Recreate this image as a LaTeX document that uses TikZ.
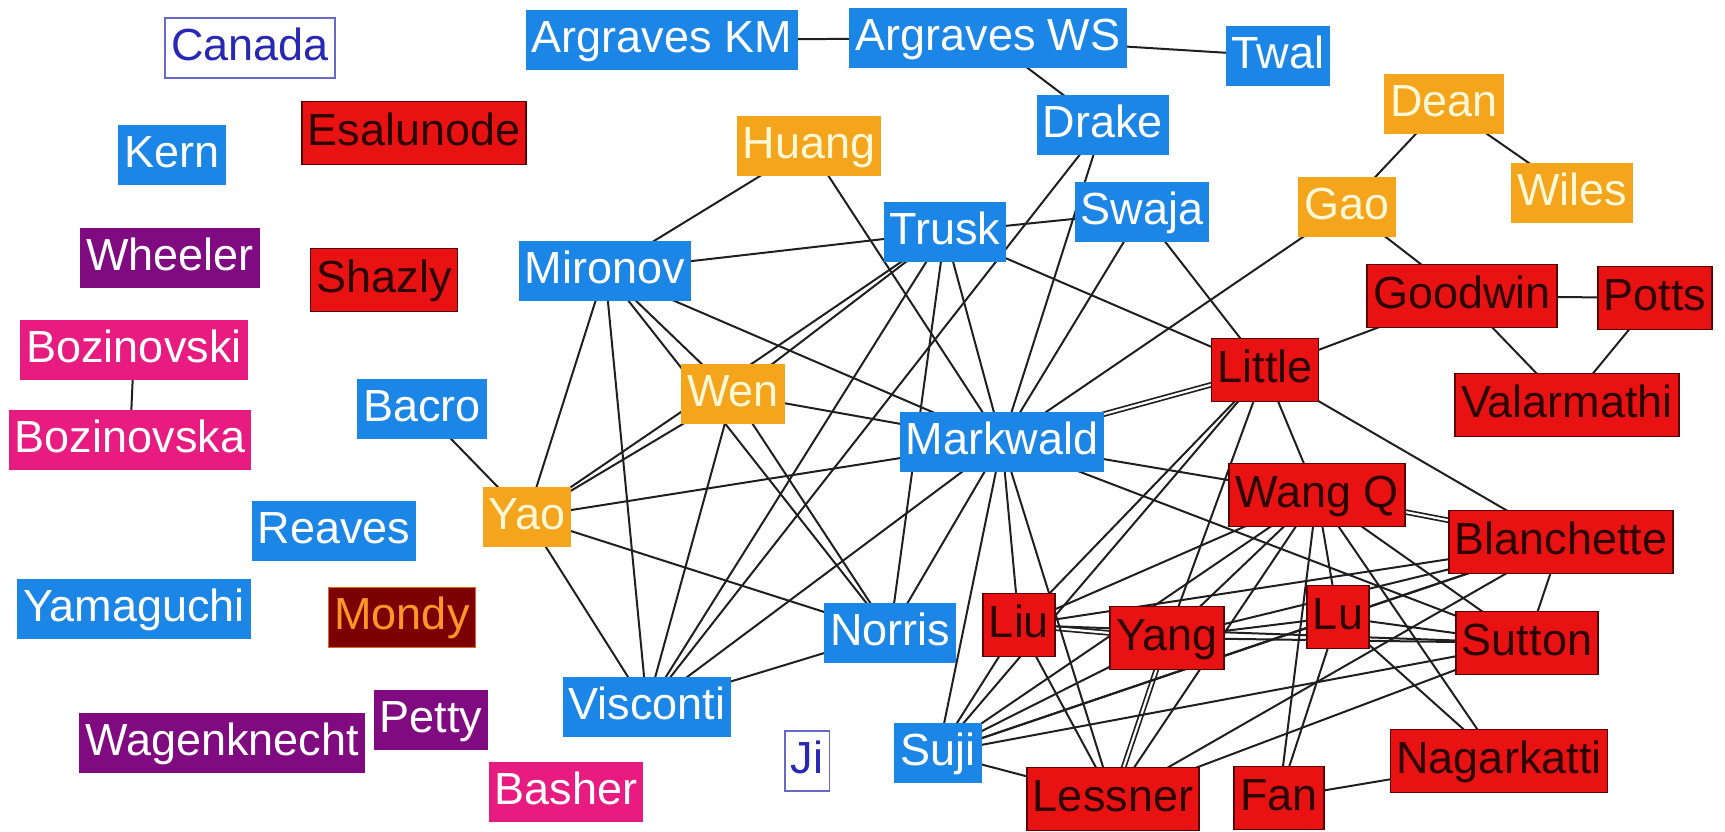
\documentclass[tikz,border=0pt]{standalone}
\usepackage{fontspec}
\setmainfont{Liberation Sans}
\definecolor{cblue}{RGB}{28,134,230}
\definecolor{corange}{RGB}{245,165,28}
\definecolor{corgtext}{RGB}{255,248,215}
\definecolor{cred}{RGB}{232,18,18}
\definecolor{credline}{RGB}{90,0,0}
\definecolor{credtext}{RGB}{45,0,0}
\definecolor{cpurple}{RGB}{128,10,128}
\definecolor{cpink}{RGB}{232,28,128}
\definecolor{cmaroon}{RGB}{125,0,0}
\definecolor{cmondytext}{RGB}{255,150,40}
\definecolor{cji}{RGB}{40,40,180}
\pgfdeclarelayer{bg}
\pgfsetlayers{bg,main}
\tikzset{
  nd/.style={inner xsep=6pt, inner ysep=0pt, minimum height=60pt, text height=33pt, text depth=9pt,
    font=\fontsize{45}{54}\selectfont},
  blu/.style={nd, fill=cblue, text=white},
  org/.style={nd, fill=corange, text=corgtext},
  rd/.style={nd, fill=cred, draw=credline, line width=1.8pt, text=credtext, minimum height=63pt},
  pur/.style={nd, fill=cpurple, text=white},
  pnk/.style={nd, fill=cpink, text=white},
  mondybox/.style={nd, fill=cmaroon, draw=cmondytext!70!cmaroon, line width=1pt, text=cmondytext},
  wht/.style={nd, fill=white, draw=cji!70, line width=1.5pt, text=cji},
  ed/.style={line width=2pt, black!88},
  dbl/.style={line width=1.7pt, black!88, double=white, double distance=2.2pt}
}
\begin{document}
\begin{tikzpicture}[x=1pt,y=-1pt]
\useasboundingbox (0,0) rectangle (1725,831);
% nodes
\node[wht] (canada) at (250,48) {Canada};
\node[blu] (argkm) at (662,40) {Argraves KM};
\node[blu] (argws) at (988,38) {Argraves WS};
\node[blu] (twal) at (1278,56) {Twal};
\node[rd] (esal) at (414,133) {Esalunode};
\node[blu] (kern) at (172,155) {Kern};
\node[org] (huang) at (809,146) {Huang};
\node[blu] (drake) at (1103,125) {Drake};
\node[org] (dean) at (1444,104) {Dean};
\node[blu] (trusk) at (945,232) {Trusk};
\node[blu] (swaja) at (1142,212) {Swaja};
\node[org] (gao) at (1347,207) {Gao};
\node[org] (wiles) at (1572,193) {Wiles};
\node[pur] (wheeler) at (170,258) {Wheeler};
\node[rd] (shazly) at (384,280) {Shazly};
\node[blu] (mironov) at (605,271) {Mironov};
\node[rd] (goodwin) at (1462,296) {Goodwin};
\node[rd] (potts) at (1655,298) {Potts};
\node[pnk] (bozi) at (134,350) {Bozinovski};
\node[rd] (little) at (1265,370) {Little};
\node[rd] (valar) at (1567,405) {Valarmathi};
\node[blu] (bacro) at (422,409) {Bacro};
\node[org] (wen) at (733,394) {Wen};
\node[blu] (markwald) at (1002,442) {Markwald};
\node[pnk] (boza) at (130,440) {Bozinovska};
\node[rd] (wangq) at (1317,495) {Wang Q};
\node[org] (yao) at (527,517) {Yao};
\node[rd] (blanch) at (1561,542) {Blanchette};
\node[blu] (reaves) at (334,531) {Reaves};
\node[blu] (yama) at (134,609) {Yamaguchi};
\node[mondybox] (mondy) at (402,617) {Mondy};
\node[blu] (norris) at (890,633) {Norris};
\node[rd] (liu) at (1019,625) {Liu};
\node[rd] (yang) at (1167,638) {Yang};
\node[rd] (lu) at (1338,617) {Lu};
\node[rd] (sutton) at (1527,643) {Sutton};
\node[blu] (visconti) at (647,707) {Visconti};
\node[pur] (petty) at (431,720) {Petty};
\node[pur] (wagen) at (222,743) {Wagenknecht};
\node[wht] (ji) at (807,761) {Ji};
\node[blu] (suji) at (938,753) {Suji};
\node[rd] (nagar) at (1499,761) {Nagarkatti};
\node[pnk] (basher) at (566,792) {Basher};
\node[rd] (lessner) at (1113,799) {Lessner};
\node[rd] (fan) at (1279,798) {Fan};
% edges
\begin{pgfonlayer}{bg}
\foreach \a/\b in {markwald/little, wangq/blanch, liu/yang, yang/lessner}
  \draw[dbl] (\a.center) -- (\b.center);
\foreach \a/\b in {argkm/argws, argws/twal, argws/drake, bozi/boza, bacro/yao, dean/gao, dean/wiles,
  gao/goodwin, goodwin/potts, goodwin/valar, potts/valar, goodwin/little,
  huang/mironov, huang/markwald,
  mironov/trusk, mironov/yao, mironov/visconti, mironov/wen, mironov/norris, mironov/markwald,
  wen/trusk, wen/yao, wen/markwald, wen/visconti, wen/norris,
  trusk/swaja, trusk/yao, trusk/visconti, trusk/norris, trusk/markwald, trusk/little,
  yao/markwald, yao/norris, yao/visconti,
  visconti/drake, visconti/markwald, visconti/norris,
  swaja/little, swaja/markwald, drake/markwald, gao/markwald,
  markwald/norris, markwald/suji, markwald/liu, markwald/lessner, markwald/wangq, markwald/sutton,
  little/wangq, little/blanch, little/liu, little/suji, little/yang,
  wangq/liu, wangq/yang, wangq/suji, wangq/lu, wangq/fan, wangq/sutton, wangq/nagar, wangq/lessner,
  liu/sutton, liu/blanch, liu/suji, liu/lessner,
  yang/lu, yang/sutton, yang/suji, yang/blanch,
  lu/sutton, lu/fan, lu/nagar, lu/suji, lu/blanch,
  blanch/sutton, blanch/suji, blanch/lessner,
  sutton/suji, sutton/lessner, suji/lessner, fan/nagar}
  \draw[ed] (\a.center) -- (\b.center);
\end{pgfonlayer}
\end{tikzpicture}
\end{document}
